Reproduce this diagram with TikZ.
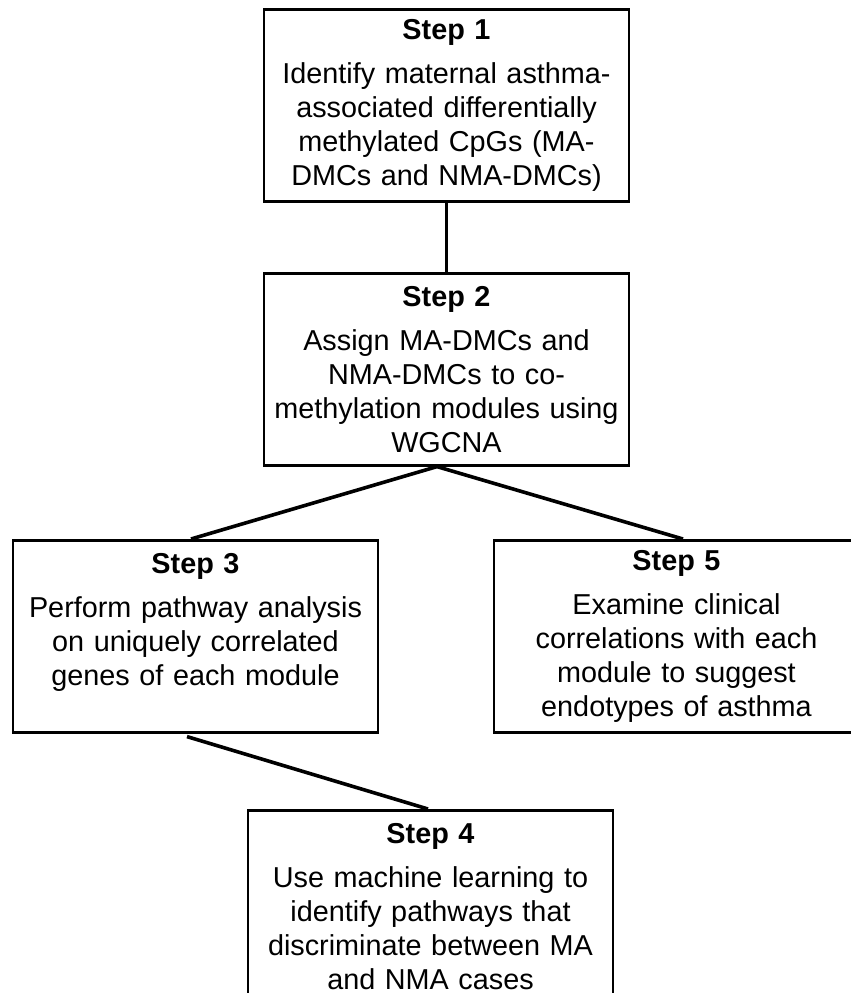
\documentclass[tikz,border=0pt]{standalone}
\usepackage{fontspec}
\setmainfont{Liberation Sans}
\usetikzlibrary{math}

\begin{document}
\begin{tikzpicture}[x=0.5pt,y=-0.5pt,
  stepbox/.style={draw, line width=1.3pt, anchor=north, inner sep=0pt,
    minimum width=\W*0.5pt, minimum height=\H*0.5pt, text width=175pt,
    align=center, font=\fontsize{14.4}{17}\selectfont},
  link/.style={line width=1.8pt}]
\tikzmath{
\W=365;
\H=192;
}
\useasboundingbox (0,0) rectangle (851,993);

%steps
\node[stepbox] (s1) at (446.5,8) {\textbf{Step 1}\\[5pt]
  Identify maternal asthma-\\associated differentially\\methylated CpGs (MA-\\DMCs and NMA-DMCs)};
\node[stepbox] (s2) at (446.5,272) {\textbf{Step 2}\\[5pt]
  Assign MA-DMCs and\\NMA-DMCs to co-\\methylation modules using\\WGCNA};
\node[stepbox] (s3) at (195.5,539) {\textbf{Step 3}\\[5pt]
  Perform pathway analysis\\on uniquely correlated\\genes of each module\\ \mbox{}};
\node[stepbox] (s5) at (676.5,539) {\textbf{Step 5}\\[5pt]
  Examine clinical\\correlations with each\\module to suggest\\endotypes of asthma};
\node[stepbox] (s4) at (430.5,809) {\textbf{Step 4}\\[5pt]
  Use machine learning to\\identify pathways that\\discriminate between MA\\and NMA cases};

%links
\coordinate (fork) at ([xshift=-4.75pt]s2.south);
\draw[link] (s1.south) -- (s2.north);
\draw[link] ([xshift=-2.25pt]s3.north) -- (fork) -- ([xshift=3.25pt]s5.north);
\draw[link] ([xshift=-4.25pt,yshift=-1.5pt]s3.south) -- ([xshift=-1.25pt]s4.north);
\end{tikzpicture}
\end{document}
